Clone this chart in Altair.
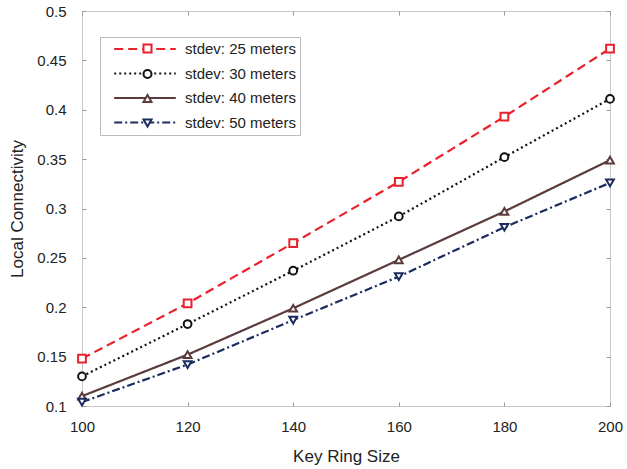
import altair as alt
import pandas as pd

key_ring = [100, 120, 140, 160, 180, 200]
series_names = ["stdev: 25 meters", "stdev: 30 meters", "stdev: 40 meters", "stdev: 50 meters"]
marker_keys = ["m25", "m30", "m40", "m50"]
sd25 = [0.148, 0.204, 0.265, 0.327, 0.393, 0.462]
sd30 = [0.130, 0.183, 0.237, 0.292, 0.352, 0.411]
sd40 = [0.110, 0.152, 0.199, 0.248, 0.297, 0.349]
sd50 = [0.104, 0.142, 0.187, 0.231, 0.281, 0.326]

colors = ["#e8212b", "#111111", "#5b3b3b", "#1b2b5e"]
dashes = [[9, 5], [2, 3], [1, 0], [8, 3, 2, 3]]
shapes = ["square", "circle", "triangle-up", "triangle-down"]
x_ticks = [100, 120, 140, 160, 180, 200]
y_ticks = [0.1, 0.15, 0.2, 0.25, 0.3, 0.35, 0.4, 0.45, 0.5]

rows = []
for name, mk, vals in zip(series_names, marker_keys, [sd25, sd30, sd40, sd50]):
    for k, v in zip(key_ring, vals):
        rows.append({"Key Ring Size": k, "Local Connectivity": v, "series": name, "marker": mk})
df = pd.DataFrame(rows)

FONT = "Liberation Sans"
TICK = 4
TICK_COLOR = "#9a9a9a"

xscale = alt.Scale(domain=[100, 200], nice=False, zero=False)
yscale = alt.Scale(domain=[0.1, 0.5], nice=False, zero=False)

x = alt.X("Key Ring Size:Q", scale=xscale,
          axis=alt.Axis(values=x_ticks, title="Key Ring Size", grid=False, domain=False,
                        ticks=True, tickSize=TICK, offset=-TICK, tickColor=TICK_COLOR,
                        labelFlush=False, labelPadding=9 + TICK, labelFontSize=15,
                        titleFontSize=17, titlePadding=14, labelColor="#222", titleColor="#222",
                        titleFontWeight="normal", labelFont=FONT, titleFont=FONT))
y = alt.Y("Local Connectivity:Q", scale=yscale,
          axis=alt.Axis(values=y_ticks, format="~g", title="Local Connectivity", grid=False,
                        domain=False, ticks=True, tickSize=TICK, offset=-TICK,
                        tickColor=TICK_COLOR, labelFlush=False, labelPadding=12 + TICK,
                        labelFontSize=15, titleFontSize=17, titlePadding=10, labelColor="#222",
                        titleColor="#222", titleFontWeight="normal", labelFont=FONT, titleFont=FONT))

x_top = alt.X("Key Ring Size:Q", scale=xscale,
              axis=alt.Axis(orient="top", values=x_ticks, title=None, labels=False, grid=False,
                            domain=False, tickSize=TICK, offset=-TICK, tickColor=TICK_COLOR))
y_right = alt.Y("Local Connectivity:Q", scale=yscale,
                axis=alt.Axis(orient="right", values=y_ticks, title=None, labels=False, grid=False,
                              domain=False, tickSize=TICK, offset=-TICK, tickColor=TICK_COLOR))

LEG_X, LEG_Y = 18, 26
common_leg = dict(title=None, orient="none", legendX=LEG_X, legendY=LEG_Y,
                  labelFontSize=15, labelFont=FONT, labelColor="#222",
                  padding=4, rowPadding=8.5)

line_legend = alt.Legend(symbolType="M-4.4,0H4.4", symbolSize=196, symbolStrokeWidth=2,
                         symbolOffset=33, labelOffset=32, strokeColor="#bbbbbb",
                         fillColor="white", **common_leg)
marker_legend = alt.Legend(symbolSize=64, symbolStrokeWidth=2, symbolFillColor="white",
                           symbolOffset=36, labelOffset=32, labelExpr="' '",
                           **common_leg)

frame = alt.Chart(df).mark_point(opacity=0).encode(x=x_top, y=y_right)

lines = alt.Chart(df).mark_line(strokeWidth=2.2).encode(
    x=x, y=y,
    color=alt.Color("series:N", scale=alt.Scale(domain=series_names, range=colors), legend=line_legend),
    strokeDash=alt.StrokeDash("series:N", scale=alt.Scale(domain=series_names, range=dashes),
                              legend=line_legend))
points = alt.Chart(df).mark_point(filled=False, fill="white", fillOpacity=1, strokeWidth=2,
                                  size=60, opacity=1).encode(
    x=alt.X("Key Ring Size:Q", scale=xscale, axis=None),
    y=alt.Y("Local Connectivity:Q", scale=yscale, axis=None),
    color=alt.Color("marker:N", scale=alt.Scale(domain=marker_keys, range=colors), legend=marker_legend),
    shape=alt.Shape("marker:N", scale=alt.Scale(domain=marker_keys, range=shapes), legend=marker_legend))

chart = alt.layer(frame, lines, points).resolve_scale(
    color="independent", shape="independent", strokeDash="independent"
).resolve_axis(x="independent", y="independent").resolve_legend(
    color="independent", shape="independent", strokeDash="independent").properties(
    width=528, height=395,
    autosize=alt.AutoSizeParams(type="none"),
    padding={"left": 82, "top": 11, "right": 17, "bottom": 63},
    background="white",
).configure_view(stroke="#c8c8c8", strokeWidth=1)

chart.save("out.html", embed_options={"renderer": "svg", "actions": False})
